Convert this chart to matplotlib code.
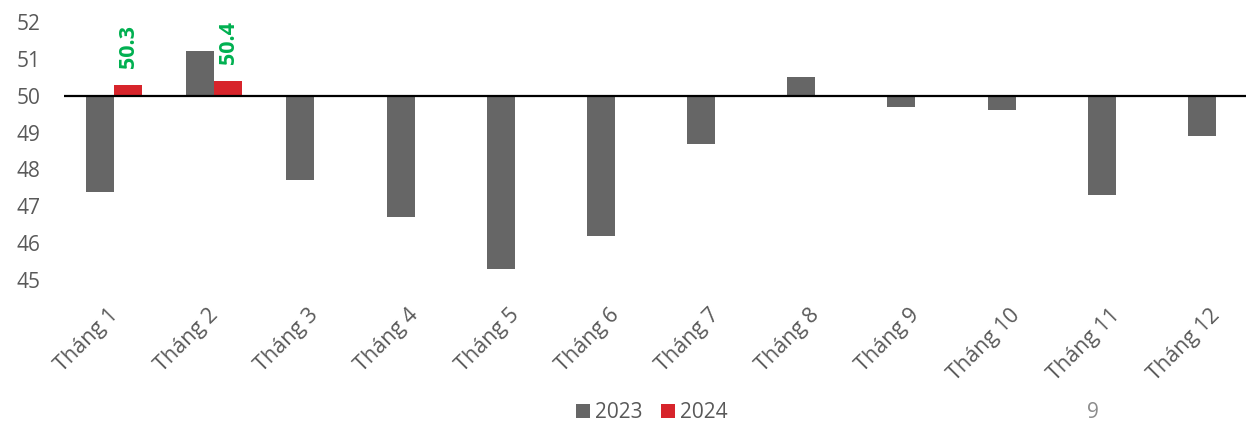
import matplotlib
matplotlib.use("Agg")
import matplotlib.pyplot as plt
from matplotlib.patches import Patch
from matplotlib.transforms import blended_transform_factory

plt.rcParams['font.family'] = ['Open Sans', 'DejaVu Sans']

months = ["Tháng 1", "Tháng 2", "Tháng 3", "Tháng 4", "Tháng 5", "Tháng 6",
          "Tháng 7", "Tháng 8", "Tháng 9", "Tháng 10", "Tháng 11", "Tháng 12"]
pmi_2023 = [47.4, 51.2, 47.7, 46.7, 45.3, 46.2, 48.7, 50.5, 49.7, 49.6, 47.3, 48.9]
pmi_2024 = [50.3, 50.4]
y_ticks = [45, 46, 47, 48, 49, 50, 51, 52]
baseline = 50

GRAY = "#666666"
RED = "#D7242B"
GREEN = "#00B050"
TEXT = "#595959"

W, H = 1246, 424
fig = plt.figure(figsize=(W / 100, H / 100), dpi=100)
ax = fig.add_axes([64 / W, (H - 280) / H, (1266 - 64) / W, (280 - 22) / H])

bw = 0.28
x = [i + 0.5 for i in range(len(months))]

ax.bar([xi - bw / 2 for xi in x], [v - baseline for v in pmi_2023], width=bw,
       bottom=baseline, color=GRAY, edgecolor="none", zorder=2)
x24 = [xi + bw / 2 for xi in x[:len(pmi_2024)]]
ax.bar(x24, [v - baseline for v in pmi_2024], width=bw,
       bottom=baseline, color=RED, edgecolor="none", zorder=2)

for xi, v in zip(x24, pmi_2024):
    ax.annotate(f"{v:.1f}", xy=(xi, v), xytext=(0, 12), textcoords="offset points",
                rotation=90, ha="center", va="bottom", color=GREEN,
                fontsize=15.5, fontweight="bold")

ax.axhline(baseline, color="black", lw=1.6, zorder=3)

ax.set_xlim(0, len(months))
ax.set_ylim(45, 52)
ax.set_yticks(y_ticks)
ax.set_yticklabels([str(t) for t in y_ticks], fontsize=15, color=TEXT)
ax.tick_params(axis="y", length=0, pad=17)
ax.set_xticks([])
for s in ax.spines.values():
    s.set_visible(False)

trans = blended_transform_factory(ax.transData, ax.transAxes)
for xi, m in zip(x, months):
    ax.text(xi + 0.01, -32 / 258, m, transform=trans, rotation=45,
            rotation_mode="anchor", ha="right", va="center",
            fontsize=15.5, color=TEXT)

handles = [Patch(facecolor=GRAY, label="2023"), Patch(facecolor=RED, label="2024")]
fig.legend(handles=handles, loc="center", bbox_to_anchor=(652 / W, 1 - 413 / H),
           ncol=2, frameon=False, fontsize=15, handlelength=0.67, handleheight=0.67,
           handletextpad=0.25, columnspacing=0.87, labelcolor=TEXT)

fig.text(1093 / W, 1 - 412 / H, "9", ha="center", va="center", fontsize=15, color="#8C8C8C")

fig.savefig("out.png", dpi=100, facecolor="white")
